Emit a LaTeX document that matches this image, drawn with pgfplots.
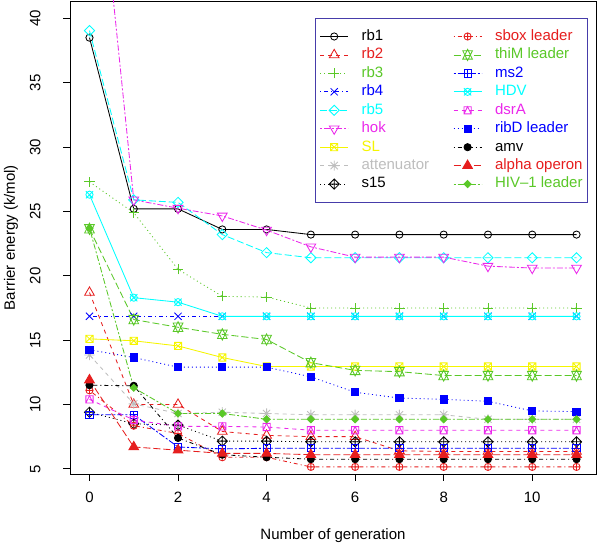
\documentclass[border=0pt]{standalone}
\usepackage{fontspec}
\setmainfont{Liberation Sans}
\usepackage{pgfplots}
\usepackage{pgfplotstable}
\pgfplotsset{compat=1.18}

\definecolor{Rred}{RGB}{230,30,30}
\definecolor{Rgreen}{RGB}{90,200,40}
\definecolor{Rblue}{RGB}{0,0,255}
\definecolor{Rcyan}{RGB}{0,255,255}
\definecolor{Rmag}{RGB}{235,40,235}
\definecolor{Ryellow}{RGB}{245,245,0}
\definecolor{Rgray}{RGB}{190,190,190}
\definecolor{Rleg}{RGB}{70,60,170}

% R-like plotting symbols (pch 1..18)
\newcommand{\ms}{\pgfplotmarksize}
\pgfdeclareplotmark{Rp1}{\pgfpathcircle{\pgfpointorigin}{\ms}\pgfusepathqstroke}
\pgfdeclareplotmark{Rp2}{%
 \pgfpathmoveto{\pgfqpoint{0pt}{1.555\ms}}\pgfpathlineto{\pgfqpoint{1.347\ms}{-0.778\ms}}%
 \pgfpathlineto{\pgfqpoint{-1.347\ms}{-0.778\ms}}\pgfpathclose\pgfusepathqstroke}
\pgfdeclareplotmark{Rp3}{%
 \pgfpathmoveto{\pgfqpoint{-1.414\ms}{0pt}}\pgfpathlineto{\pgfqpoint{1.414\ms}{0pt}}%
 \pgfpathmoveto{\pgfqpoint{0pt}{-1.414\ms}}\pgfpathlineto{\pgfqpoint{0pt}{1.414\ms}}\pgfusepathqstroke}
\pgfdeclareplotmark{Rp4}{%
 \pgfpathmoveto{\pgfqpoint{-\ms}{-\ms}}\pgfpathlineto{\pgfqpoint{\ms}{\ms}}%
 \pgfpathmoveto{\pgfqpoint{-\ms}{\ms}}\pgfpathlineto{\pgfqpoint{\ms}{-\ms}}\pgfusepathqstroke}
\pgfdeclareplotmark{Rp5}{%
 \pgfpathmoveto{\pgfqpoint{0pt}{1.414\ms}}\pgfpathlineto{\pgfqpoint{1.414\ms}{0pt}}%
 \pgfpathlineto{\pgfqpoint{0pt}{-1.414\ms}}\pgfpathlineto{\pgfqpoint{-1.414\ms}{0pt}}\pgfpathclose\pgfusepathqstroke}
\pgfdeclareplotmark{Rp6}{%
 \pgfpathmoveto{\pgfqpoint{0pt}{-1.555\ms}}\pgfpathlineto{\pgfqpoint{1.347\ms}{0.778\ms}}%
 \pgfpathlineto{\pgfqpoint{-1.347\ms}{0.778\ms}}\pgfpathclose\pgfusepathqstroke}
\pgfdeclareplotmark{Rp7}{%
 \pgfpathrectangle{\pgfqpoint{-\ms}{-\ms}}{\pgfqpoint{2\ms}{2\ms}}%
 \pgfpathmoveto{\pgfqpoint{-\ms}{-\ms}}\pgfpathlineto{\pgfqpoint{\ms}{\ms}}%
 \pgfpathmoveto{\pgfqpoint{-\ms}{\ms}}\pgfpathlineto{\pgfqpoint{\ms}{-\ms}}\pgfusepathqstroke}
\pgfdeclareplotmark{Rp8}{%
 \pgfpathmoveto{\pgfqpoint{-\ms}{-\ms}}\pgfpathlineto{\pgfqpoint{\ms}{\ms}}%
 \pgfpathmoveto{\pgfqpoint{-\ms}{\ms}}\pgfpathlineto{\pgfqpoint{\ms}{-\ms}}%
 \pgfpathmoveto{\pgfqpoint{-1.414\ms}{0pt}}\pgfpathlineto{\pgfqpoint{1.414\ms}{0pt}}%
 \pgfpathmoveto{\pgfqpoint{0pt}{-1.414\ms}}\pgfpathlineto{\pgfqpoint{0pt}{1.414\ms}}\pgfusepathqstroke}
\pgfdeclareplotmark{Rp9}{%
 \pgfpathmoveto{\pgfqpoint{0pt}{1.414\ms}}\pgfpathlineto{\pgfqpoint{1.414\ms}{0pt}}%
 \pgfpathlineto{\pgfqpoint{0pt}{-1.414\ms}}\pgfpathlineto{\pgfqpoint{-1.414\ms}{0pt}}\pgfpathclose
 \pgfpathmoveto{\pgfqpoint{-1.414\ms}{0pt}}\pgfpathlineto{\pgfqpoint{1.414\ms}{0pt}}%
 \pgfpathmoveto{\pgfqpoint{0pt}{-1.414\ms}}\pgfpathlineto{\pgfqpoint{0pt}{1.414\ms}}\pgfusepathqstroke}
\pgfdeclareplotmark{Rp10}{\pgfpathcircle{\pgfpointorigin}{\ms}%
 \pgfpathmoveto{\pgfqpoint{-\ms}{0pt}}\pgfpathlineto{\pgfqpoint{\ms}{0pt}}%
 \pgfpathmoveto{\pgfqpoint{0pt}{-\ms}}\pgfpathlineto{\pgfqpoint{0pt}{\ms}}\pgfusepathqstroke}
\pgfdeclareplotmark{Rp11}{%
 \pgfpathmoveto{\pgfqpoint{0pt}{-1.555\ms}}\pgfpathlineto{\pgfqpoint{1.347\ms}{1.166\ms}}%
 \pgfpathlineto{\pgfqpoint{-1.347\ms}{1.166\ms}}\pgfpathclose
 \pgfpathmoveto{\pgfqpoint{0pt}{1.555\ms}}\pgfpathlineto{\pgfqpoint{1.347\ms}{-1.166\ms}}%
 \pgfpathlineto{\pgfqpoint{-1.347\ms}{-1.166\ms}}\pgfpathclose\pgfusepathqstroke}
\pgfdeclareplotmark{Rp12}{%
 \pgfpathrectangle{\pgfqpoint{-\ms}{-\ms}}{\pgfqpoint{2\ms}{2\ms}}%
 \pgfpathmoveto{\pgfqpoint{-\ms}{0pt}}\pgfpathlineto{\pgfqpoint{\ms}{0pt}}%
 \pgfpathmoveto{\pgfqpoint{0pt}{-\ms}}\pgfpathlineto{\pgfqpoint{0pt}{\ms}}\pgfusepathqstroke}
\pgfdeclareplotmark{Rp13}{\pgfpathcircle{\pgfpointorigin}{\ms}%
 \pgfpathmoveto{\pgfqpoint{-\ms}{-\ms}}\pgfpathlineto{\pgfqpoint{\ms}{\ms}}%
 \pgfpathmoveto{\pgfqpoint{-\ms}{\ms}}\pgfpathlineto{\pgfqpoint{\ms}{-\ms}}\pgfusepathqstroke}
\pgfdeclareplotmark{Rp14}{%
 \pgfpathrectangle{\pgfqpoint{-\ms}{-\ms}}{\pgfqpoint{2\ms}{2\ms}}%
 \pgfpathmoveto{\pgfqpoint{-\ms}{-\ms}}\pgfpathlineto{\pgfqpoint{0pt}{\ms}}%
 \pgfpathlineto{\pgfqpoint{\ms}{-\ms}}\pgfusepathqstroke}
\pgfdeclareplotmark{Rp15}{\pgfpathrectangle{\pgfqpoint{-\ms}{-\ms}}{\pgfqpoint{2\ms}{2\ms}}\pgfusepathqfillstroke}
\pgfdeclareplotmark{Rp16}{\pgfpathcircle{\pgfpointorigin}{\ms}\pgfusepathqfillstroke}
\pgfdeclareplotmark{Rp17}{%
 \pgfpathmoveto{\pgfqpoint{0pt}{1.555\ms}}\pgfpathlineto{\pgfqpoint{1.347\ms}{-0.778\ms}}%
 \pgfpathlineto{\pgfqpoint{-1.347\ms}{-0.778\ms}}\pgfpathclose\pgfusepathqfillstroke}
\pgfdeclareplotmark{Rp18}{%
 \pgfpathmoveto{\pgfqpoint{0pt}{\ms}}\pgfpathlineto{\pgfqpoint{\ms}{0pt}}%
 \pgfpathlineto{\pgfqpoint{0pt}{-\ms}}\pgfpathlineto{\pgfqpoint{-\ms}{0pt}}\pgfpathclose\pgfusepathqfillstroke}

\tikzset{
 lty1/.style={solid},
 lty2/.style={dash pattern=on 4pt off 4pt},
 lty3/.style={dash pattern=on 1pt off 3pt},
 lty4/.style={dash pattern=on 1pt off 3pt on 4pt off 3pt},
 lty5/.style={dash pattern=on 7pt off 3pt},
 lty6/.style={dash pattern=on 2pt off 2pt on 6pt off 2pt},
}

\pgfplotstableread{
gen rb1 rb2 rb3 rb4 rb5 hok SL att s15 sbox thiM ms2 HDV dsrA ribD amv alpha HIV
0 38.5 18.7 27.3 16.85 39.05 59.6 15.1 13.85 9.4 11.1 23.65 9.2 26.3 10.4 14.25 11.5 11.9 23.7
1 25.2 10.0 24.9 16.85 25.9 25.9 14.95 10.05 8.5 8.35 16.6 9.2 18.3 8.8 13.65 11.45 6.7 11.3
2 25.2 10.0 20.5 16.85 25.7 25.25 14.55 9.3 8.4 7.75 16.0 6.7 17.95 8.3 12.9 7.4 6.45 9.3
3 23.6 7.9 18.4 16.85 23.2 24.65 13.65 9.4 7.15 5.9 15.45 6.55 16.85 8.3 12.9 6.1 6.2 9.3
4 23.6 7.6 18.35 16.85 21.8 23.55 12.95 9.3 7.15 5.9 15.05 6.6 16.85 8.25 12.9 5.9 6.2 8.85
5 23.2 7.5 17.5 16.85 21.4 22.25 12.95 9.2 7.1 5.15 13.25 6.6 16.85 8.0 12.15 5.75 6.1 8.85
6 23.2 7.5 17.5 16.85 21.4 21.45 12.95 9.2 7.1 5.15 12.65 6.6 16.85 8.0 10.95 5.75 6.1 8.85
7 23.2 6.4 17.5 16.85 21.4 21.45 12.95 9.2 7.1 5.15 12.55 6.6 16.85 8.0 10.5 5.75 6.1 8.85
8 23.2 6.35 17.5 16.85 21.4 21.45 12.95 9.2 7.1 5.15 12.25 6.6 16.85 8.0 10.4 5.75 6.1 8.85
9 23.2 6.35 17.5 16.85 21.4 20.75 12.95 8.85 7.1 5.15 12.25 6.6 16.85 8.0 10.25 5.75 6.1 8.85
10 23.2 6.35 17.5 16.85 21.4 20.6 12.95 8.85 7.1 5.15 12.25 6.6 16.85 8.0 9.5 5.75 6.1 8.85
11 23.2 6.35 17.5 16.85 21.4 20.6 12.95 8.85 7.1 5.15 12.25 6.6 16.85 8.0 9.45 5.75 6.1 8.85
}\data

\newcommand{\fs}{\fontsize{15}{18}\selectfont}

\begin{document}
\begin{tikzpicture}
\useasboundingbox (0pt,0pt) rectangle (600pt,548pt);
\begin{axis}[
  at={(70pt,74pt)}, anchor=south west,
  scale only axis, width=526pt, height=473pt,
  xmin=-0.44, xmax=11.44, ymin=4.6, ymax=41.35,
  xtick={0,2,...,10}, ytick={5,10,...,40},
  tick align=outside, major tick length=7pt,
  xtick pos=lower, ytick pos=left,
  axis line style={black, line width=0.8pt},
  every tick/.style={black, line width=0.8pt},
  tick label style={font=\fs},
  /pgf/number format/assume math mode=true,
  yticklabel style={rotate=90, anchor=south},
  xticklabel shift=7.5pt, yticklabel shift=19pt,
  xlabel={Number of generation},
  ylabel={Barrier energy (k/mol)},
  every axis x label/.style={at={([yshift=-62pt]axis description cs:0.5,0)}, anchor=center, font=\fs},
  every axis y label/.style={at={([xshift=-59pt]axis description cs:0,0.5)}, rotate=90, anchor=center, font=\fs},
  mark size=3.6pt,
  every axis plot/.append style={line width=0.85pt},
  legend image code/.code={\draw[mark repeat=2,mark phase=2] plot coordinates {(0pt,0pt) (14pt,0pt) (28pt,0pt)};},
  legend columns=9, transpose legend, legend cell align=left,
  legend style={draw=Rleg, line width=0.8pt, fill=white,
    at={(axis description cs:1,1)}, anchor=north east, xshift=-8pt, yshift=-17pt,
    font=\fs, inner xsep=4pt, inner ysep=10.2pt, row sep=2.65pt,
    nodes={inner sep=1pt, text height=10.8pt, text depth=3pt},
    /tikz/every odd column/.append style={column sep=12pt},
    /tikz/every even column/.append style={column sep=23pt}},
]
\addplot[color=black, lty1, mark=Rp1, mark options={solid}] table[x=gen,y=rb1]{\data};
\addlegendentry{rb1}
\addplot[color=Rred, lty2, mark=Rp2, mark options={solid}] table[x=gen,y=rb2]{\data};
\addlegendentry{\textcolor{Rred}{rb2}}
\addplot[color=Rgreen, lty3, mark=Rp3, mark options={solid}] table[x=gen,y=rb3]{\data};
\addlegendentry{\textcolor{Rgreen}{rb3}}
\addplot[color=Rblue, lty4, mark=Rp4, mark options={solid}] table[x=gen,y=rb4]{\data};
\addlegendentry{\textcolor{Rblue}{rb4}}
\addplot[color=Rcyan, lty5, mark=Rp5, mark options={solid}] table[x=gen,y=rb5]{\data};
\addlegendentry{\textcolor{Rcyan}{rb5}}
\addplot[color=Rmag, lty6, mark=Rp6, mark options={solid}] table[x=gen,y=hok]{\data};
\addlegendentry{\textcolor{Rmag}{hok}}
\addplot[color=Ryellow, lty1, mark=Rp7, mark options={solid}] table[x=gen,y=SL]{\data};
\addlegendentry{\textcolor{Ryellow}{SL}}
\addplot[color=Rgray, lty2, mark=Rp8, mark options={solid}] table[x=gen,y=att]{\data};
\addlegendentry{\textcolor{Rgray}{attenuator}}
\addplot[color=black, lty3, mark=Rp9, mark options={solid}] table[x=gen,y=s15]{\data};
\addlegendentry{s15}
\addplot[color=Rred, lty4, mark=Rp10, mark options={solid}] table[x=gen,y=sbox]{\data};
\addlegendentry{\textcolor{Rred}{sbox leader}}
\addplot[color=Rgreen, lty5, mark=Rp11, mark options={solid}] table[x=gen,y=thiM]{\data};
\addlegendentry{\textcolor{Rgreen}{thiM leader}}
\addplot[color=Rblue, lty6, mark=Rp12, mark options={solid}] table[x=gen,y=ms2]{\data};
\addlegendentry{\textcolor{Rblue}{ms2}}
\addplot[color=Rcyan, lty1, mark=Rp13, mark options={solid}] table[x=gen,y=HDV]{\data};
\addlegendentry{\textcolor{Rcyan}{HDV}}
\addplot[color=Rmag, lty2, mark=Rp14, mark options={solid}] table[x=gen,y=dsrA]{\data};
\addlegendentry{\textcolor{Rmag}{dsrA}}
\addplot[color=Rblue, lty3, mark=Rp15, mark options={solid, fill=Rblue}] table[x=gen,y=ribD]{\data};
\addlegendentry{\textcolor{Rblue}{ribD leader}}
\addplot[color=black, lty4, mark=Rp16, mark options={solid, fill=black}] table[x=gen,y=amv]{\data};
\addlegendentry{amv}
\addplot[color=Rred, lty5, mark=Rp17, mark options={solid, fill=Rred}] table[x=gen,y=alpha]{\data};
\addlegendentry{\textcolor{Rred}{alpha operon}}
\addplot[color=Rgreen, lty6, mark=Rp18, mark options={solid, fill=Rgreen}] table[x=gen,y=HIV]{\data};
\addlegendentry{\textcolor{Rgreen}{HIV{\textendash}1 leader}}
\end{axis}
\end{tikzpicture}
\end{document}
